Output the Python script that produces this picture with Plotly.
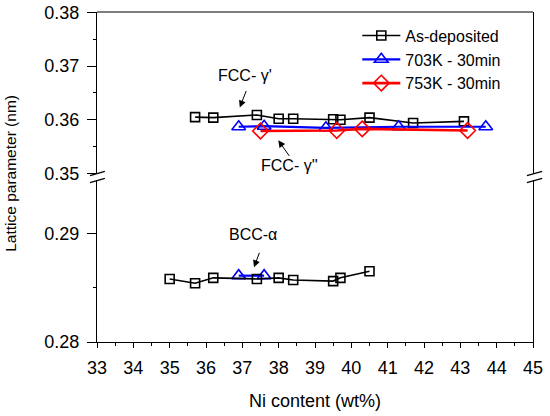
import plotly.graph_objects as go

# As-deposited: FCC (upper panel) and BCC (lower panel)
ni_asdep_fcc = [35.7, 36.2, 37.4, 38.0, 38.4, 39.5, 39.7, 40.5, 41.7, 43.1]
a_asdep_fcc = [0.3605, 0.3604, 0.3609, 0.3602, 0.3602, 0.3601, 0.3600, 0.3604, 0.3594, 0.3597]
ni_asdep_bcc = [35.0, 35.7, 36.2, 37.4, 38.0, 38.4, 39.5, 39.7, 40.5]
a_asdep_bcc = [0.2858, 0.2854, 0.2859, 0.2858, 0.2859, 0.2857, 0.2856, 0.2859, 0.2865]

# 703K - 30min
ni_703_fcc = [36.9, 37.6, 39.3, 41.3, 43.7]
a_703_fcc = [0.3587, 0.3588, 0.3585, 0.3587, 0.3587]
ni_703_bcc = [36.9, 37.6]
a_703_bcc = [0.2861, 0.2861]

# 753K - 30min
ni_753_fcc = [37.5, 39.6, 40.3, 43.2]
a_753_fcc = [0.3579, 0.3580, 0.3583, 0.3580]

FONT = "Liberation Sans, Arial, sans-serif"

fig = go.Figure()

# upper panel (FCC)
fig.add_trace(go.Scatter(x=ni_asdep_fcc, y=a_asdep_fcc, xaxis="x", yaxis="y2",
                         name="As-deposited", legendgroup="a", mode="lines+markers",
                         line=dict(color="black", width=1.6),
                         marker=dict(symbol="square-open", size=9, color="black", line=dict(width=1.6))))
fig.add_trace(go.Scatter(x=ni_703_fcc, y=a_703_fcc, xaxis="x", yaxis="y2",
                         name="703K - 30min", legendgroup="b", mode="lines+markers",
                         line=dict(color="#0000ff", width=2.2),
                         marker=dict(symbol="triangle-up-open", size=12, color="#0000ff", line=dict(width=1.6))))
fig.add_trace(go.Scatter(x=ni_753_fcc, y=a_753_fcc, xaxis="x", yaxis="y2",
                         name="753K - 30min", legendgroup="c", mode="lines+markers",
                         line=dict(color="#ff0000", width=2.6),
                         marker=dict(symbol="diamond-open", size=12, color="#ff0000", line=dict(width=1.6))))

# lower panel (BCC)
fig.add_trace(go.Scatter(x=ni_703_bcc, y=a_703_bcc, xaxis="x", yaxis="y",
                         showlegend=False, legendgroup="b", mode="lines+markers",
                         line=dict(color="#0000ff", width=2.2),
                         marker=dict(symbol="triangle-up-open", size=12, color="#0000ff", line=dict(width=1.6))))
fig.add_trace(go.Scatter(x=ni_asdep_bcc, y=a_asdep_bcc, xaxis="x", yaxis="y",
                         showlegend=False, legendgroup="a", mode="lines+markers",
                         line=dict(color="black", width=1.6),
                         marker=dict(symbol="square-open", size=9, color="black", line=dict(width=1.6))))

tickfont = dict(family=FONT, size=18, color="black")
axis_common = dict(showline=True, linecolor="black", linewidth=1.2, showgrid=False,
                   zeroline=False, ticks="outside", tickcolor="black",
                   tickfont=tickfont, automargin=False)
y_common = dict(axis_common, ticklen=9, dtick=0.01, tickformat=".2f", mirror=True,
                ticklabelstandoff=4, ticklabeloverflow="allow",
                minor=dict(dtick=0.005, ticks="outside", ticklen=3, tickcolor="black"))

fig.update_layout(
    width=550, height=416,
    margin=dict(l=97, r=17, t=12, b=74),
    paper_bgcolor="white", plot_bgcolor="white",
    font=dict(family=FONT, size=16, color="black"),
    xaxis=dict(axis_common, anchor="y", range=[33, 45], dtick=1, ticklen=5,
               ticklabelstandoff=4,
               minor=dict(dtick=0.5, ticks="outside", ticklen=3, tickcolor="black"),
               title=dict(text="Ni content (wt%)", font=dict(family=FONT, size=18), standoff=17)),
    yaxis=dict(y_common, domain=[0, 0.491], range=[0.28, 0.2949]),
    yaxis2=dict(y_common, domain=[0.511, 1], range=[0.35, 0.3801]),
    legend=dict(x=0.597, xanchor="left", y=0.98, yanchor="top", itemwidth=38,
                bgcolor="rgba(0,0,0,0)", font=dict(family=FONT, size=16),
                tracegroupgap=0),
)

# phase labels with arrows
labels = [
    dict(text="FCC- γ'", x=37.07, y=0.3682, yref="y2"),
    dict(text="FCC- γ''", x=38.31, y=0.3515, yref="y2"),
    dict(text="BCC-α", x=37.30, y=0.28985, yref="y"),
]
for lab in labels:
    fig.add_annotation(x=lab["x"], y=lab["y"], xref="x", yref=lab["yref"], text=lab["text"],
                       showarrow=False, font=dict(family=FONT, size=16, color="black"))

arrows = [
    dict(x=36.93, y=0.3623, yref="y2", ax=7, ay=-18),
    dict(x=37.99, y=0.35616, yref="y2", ax=12, ay=17),
    dict(x=37.32, y=0.28687, yref="y", ax=6, ay=-16),
]
for ar in arrows:
    fig.add_annotation(x=ar["x"], y=ar["y"], xref="x", yref=ar["yref"], text="",
                       showarrow=True, ax=ar["ax"], ay=ar["ay"], arrowhead=2,
                       arrowsize=1.4, arrowwidth=1, arrowcolor="black")

# y-axis title spanning both panels
fig.add_annotation(x=-0.197, y=0.51, xref="paper", yref="paper", xanchor="center", yanchor="middle",
                   text="Lattice parameter (nm)", textangle=-90, showarrow=False,
                   font=dict(family=FONT, size=15.5, color="black"))

# top frame line
fig.add_shape(type="line", xref="paper", yref="paper", x0=0, x1=1, y0=1, y1=1,
              line=dict(color="black", width=1.2))

# axis break marks
for x0, x1 in [(-0.016, 0.018), (0.986, 1.021)]:
    for y0, y1 in [(0.504, 0.517), (0.483, 0.496)]:
        fig.add_shape(type="line", xref="paper", yref="paper", x0=x0, x1=x1, y0=y0, y1=y1,
                      line=dict(color="black", width=1.2))

fig.write_html("out.html", config={"displayModeBar": False},
               post_script="document.body.style.margin='0';")
